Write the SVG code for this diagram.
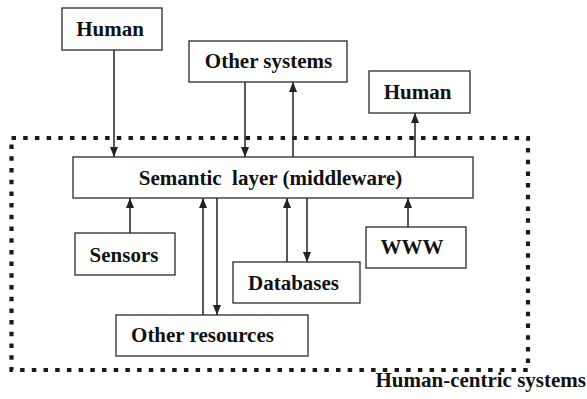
<svg xmlns="http://www.w3.org/2000/svg" width="587" height="399" viewBox="0 0 587 399">
<style>
  .box { fill: #ffffff; stroke: #2a2a2a; stroke-width: 1.3; }
  .lbl { font-family: "Liberation Serif", "Times New Roman", serif; font-weight: bold; font-size: 21px; fill: #111111; text-anchor: middle; }
  .conn { stroke: #222222; stroke-width: 1.5; fill: none; marker-end: url(#ah); }
  .frame { fill: none; stroke: #1a1a1a; stroke-width: 4.2; stroke-dasharray: 4.5 7.2; }
</style>
<defs>
  <marker id="ah" markerUnits="userSpaceOnUse" markerWidth="10" markerHeight="8" refX="10" refY="4" orient="auto">
    <path d="M0,0 L10,4 L0,8 z" fill="#222222"/>
  </marker>
</defs>
<rect class="frame" x="11.5" y="138" width="516.5" height="232"/>
<g id="connectors">
  <line class="conn" x1="114" y1="50" x2="114" y2="157"/>
  <line class="conn" x1="245" y1="82" x2="245" y2="157"/>
  <line class="conn" x1="293" y1="157" x2="293" y2="82"/>
  <line class="conn" x1="415" y1="157" x2="415" y2="113"/>
  <line class="conn" x1="130" y1="233" x2="130" y2="198"/>
  <line class="conn" x1="203" y1="315" x2="203" y2="198"/>
  <line class="conn" x1="217" y1="198" x2="217" y2="315"/>
  <line class="conn" x1="287" y1="262" x2="287" y2="198"/>
  <line class="conn" x1="307" y1="198" x2="307" y2="262"/>
  <line class="conn" x1="408" y1="227" x2="408" y2="198"/>
</g>
<g id="human1">
  <rect class="box" x="62" y="8" width="100" height="42"/>
  <text class="lbl" x="110" y="36">Human</text>
</g>
<g id="other-systems">
  <rect class="box" x="189" y="41" width="158" height="41"/>
  <text class="lbl" x="268.5" y="68">Other systems</text>
</g>
<g id="human2">
  <rect class="box" x="369" y="71" width="101" height="42"/>
  <text class="lbl" x="417.5" y="99">Human</text>
</g>
<g id="semantic-layer">
  <rect class="box" x="73" y="157" width="400" height="41"/>
  <text class="lbl" x="270.5" y="185">Semantic&#160; layer (middleware)</text>
</g>
<g id="sensors">
  <rect class="box" x="75" y="233" width="100" height="42"/>
  <text class="lbl" x="124" y="262">Sensors</text>
</g>
<g id="www">
  <rect class="box" x="366" y="227" width="100" height="41"/>
  <text class="lbl" x="412" y="254">WWW</text>
</g>
<g id="databases">
  <rect class="box" x="233" y="262" width="127" height="41"/>
  <text class="lbl" x="293.5" y="290">Databases</text>
</g>
<g id="other-resources">
  <rect class="box" x="116" y="315" width="192" height="41"/>
  <text class="lbl" x="202.5" y="342">Other resources</text>
</g>
<g id="human-centric-label">
  <text class="lbl" x="586" y="387" style="text-anchor:end">Human-centric systems</text>
</g>
</svg>
